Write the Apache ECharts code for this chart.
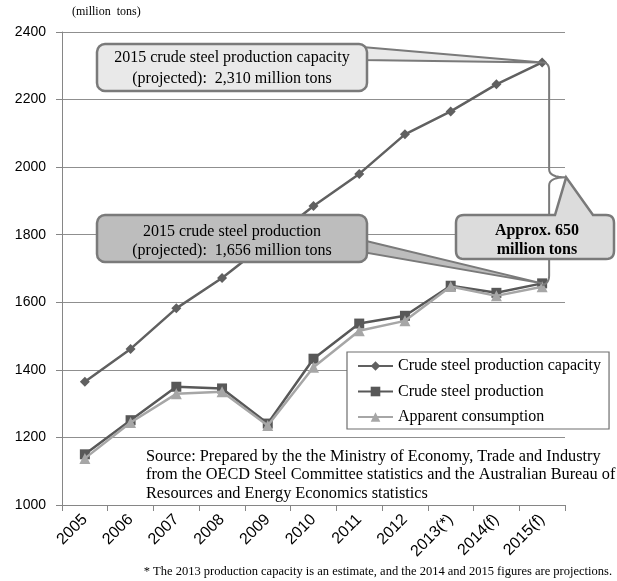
<!DOCTYPE html>
<html>
<head>
<meta charset="utf-8">
<script src="https://cdn.jsdelivr.net/npm/echarts@6/dist/echarts.min.js"></script>
<style>
  html, body { margin: 0; padding: 0; background: #fff; }
  #chart { width: 617px; height: 581px; }
</style>
</head>
<body>
<div id="chart"></div>
<script>
// Years on the category axis
const years = ['2005', '2006', '2007', '2008', '2009', '2010', '2011', '2012', '2013(*)', '2014(f)', '2015(f)'];
// World steel figures, million tons
const capacity = [1365, 1462, 1582, 1672, 1778, 1885, 1980, 2097, 2165, 2245, 2310];
const production = [1150, 1251, 1350, 1345, 1241, 1433, 1537, 1560, 1649, 1628, 1656];
const consumption = [1138, 1244, 1329, 1335, 1235, 1408, 1516, 1545, 1647, 1619, 1646];
const seriesNames = ['Crude steel production capacity', 'Crude steel production', 'Apparent consumption'];
const yTicks = { min: 1000, max: 2400, step: 200 };

const SERIF = '"Liberation Serif", "Times New Roman", serif';
const SANS = '"Liberation Sans", Arial, sans-serif';
const GRID = '#8f8f8f';
const EDGE = '#7a7a7a';

const chart = echarts.init(document.getElementById('chart'), null, { renderer: 'canvas' });

function lineSeries(name, data, color, symbol, size, z) {
  return {
    name, type: 'line', data, symbol, symbolSize: size, z,
    lineStyle: { color, width: 2.5 },
    itemStyle: { color, borderWidth: 0 },
    emphasis: { disabled: true },
    animation: false
  };
}

chart.setOption({
  animation: false,
  grid: { left: 62, right: 52, top: 32, bottom: 76, containLabel: false },
  xAxis: {
    type: 'category',
    data: years,
    boundaryGap: true,
    axisLine: { lineStyle: { color: '#868686', width: 1 } },
    axisTick: { show: true, length: 6, alignWithLabel: false, lineStyle: { color: '#868686' } },
    axisLabel: { rotate: 45, interval: 0, fontFamily: SANS, fontSize: 16, color: '#000', margin: 12 },
    splitLine: { show: false }
  },
  yAxis: {
    type: 'value',
    min: yTicks.min, max: yTicks.max, interval: yTicks.step,
    axisLine: { show: true, lineStyle: { color: '#868686', width: 1 } },
    axisTick: { show: true, length: 6, lineStyle: { color: '#868686' } },
    axisLabel: { fontFamily: SANS, fontSize: 14, color: '#000', margin: 16,
      formatter: v => String(v) },
    splitLine: { show: true, lineStyle: { color: GRID, width: 1.2 } }
  },
  legend: {
    orient: 'vertical',
    left: 347, top: 352,
    data: seriesNames,
    backgroundColor: '#fff',
    borderColor: '#6e6e6e', borderWidth: 1.2,
    padding: [6, 8, 4, 10],
    itemWidth: 35, itemHeight: 12, itemGap: 9.5,
    textStyle: { fontFamily: SERIF, fontSize: 16, color: '#000' },
    z: 20
  },
  series: [
    lineSeries(seriesNames[0], capacity, '#606060', 'diamond', 10, 2),
    lineSeries(seriesNames[1], production, '#585858', 'rect', 10, 3),
    lineSeries(seriesNames[2], consumption, '#a6a6a6', 'triangle', 11, 4)
  ]
});

// Quadratic curve sampled into points (start point excluded)
function quad(p0, c, p1, n) {
  const pts = [];
  for (let i = 1; i <= n; i++) {
    const t = i / n, u = 1 - t;
    pts.push([u * u * p0[0] + 2 * u * t * c[0] + t * t * p1[0],
              u * u * p0[1] + 2 * u * t * c[1] + t * t * p1[1]]);
  }
  return pts;
}

// Annotations: callouts and brace, anchored on the 2015 data points
const last = years.length - 1;
const pCap = chart.convertToPixel({ seriesIndex: 0 }, [last, capacity[last]]);
const pProd = chart.convertToPixel({ seriesIndex: 1 }, [last, production[last]]);
const braceX = pCap[0] + 7;
const yMid = pCap[1] + (pProd[1] - pCap[1]) * 0.52;
const notch = [braceX + 17, yMid];

const brace = [pCap]
  .concat(quad(pCap, [braceX, pCap[1]], [braceX, pCap[1] + 8], 8))
  .concat([[braceX, yMid - 8]])
  .concat(quad([braceX, yMid - 8], [braceX, yMid], notch, 8))
  .concat(quad(notch, [braceX, yMid], [braceX, yMid + 8], 8))
  .concat([[braceX, pProd[1] - 8]])
  .concat(quad([braceX, pProd[1] - 8], [braceX, pProd[1]], [pProd[0], pProd[1] + 2], 8));

// Gap callout outline: rounded box with a pointer rising to the brace notch
const bx0 = 456, bx1 = 614, by0 = 215, by1 = 259, r = 8;
const callout = [[bx0 + r, by0], [555, by0], notch, [593, by0], [bx1 - r, by0]]
  .concat(quad([bx1 - r, by0], [bx1, by0], [bx1, by0 + r], 6))
  .concat([[bx1, by1 - r]])
  .concat(quad([bx1, by1 - r], [bx1, by1], [bx1 - r, by1], 6))
  .concat([[bx0 + r, by1]])
  .concat(quad([bx0 + r, by1], [bx0, by1], [bx0, by1 - r], 6))
  .concat([[bx0, by0 + r]])
  .concat(quad([bx0, by0 + r], [bx0, by0], [bx0 + r, by0], 6));

chart.setOption({
  graphic: [
    // unit label
    { type: 'text', x: 72, y: 6, z: 30,
      style: { text: '(million  tons)', fontFamily: SERIF, fontSize: 12, fill: '#000' } },

    // brace between capacity and production in 2015
    { type: 'polyline', z: 25, shape: { points: brace },
      style: { fill: null, stroke: EDGE, lineWidth: 2 } },

    // capacity callout pointer and box
    { type: 'polygon', z: 26, shape: { points: [[362, 47], pCap, [362, 60]] },
      style: { fill: '#e9e9e9', stroke: EDGE, lineWidth: 2 } },
    { type: 'rect', z: 27, shape: { x: 97, y: 44, width: 270, height: 47, r: 8 },
      style: { fill: '#e9e9e9', stroke: EDGE, lineWidth: 2.5 } },
    { type: 'text', z: 28, x: 232, y: 68,
      style: { text: '2015 crude steel production capacity\n(projected):  2,310 million tons',
        fontFamily: SERIF, fontSize: 16, fill: '#000', align: 'center', verticalAlign: 'middle', lineHeight: 21 } },

    // production callout pointer and box
    { type: 'polygon', z: 26, shape: { points: [[362, 240], pProd, [362, 252]] },
      style: { fill: '#bdbdbd', stroke: EDGE, lineWidth: 2 } },
    { type: 'rect', z: 27, shape: { x: 97, y: 215, width: 270, height: 47, r: 8 },
      style: { fill: '#bdbdbd', stroke: EDGE, lineWidth: 2.5 } },
    { type: 'text', z: 28, x: 232, y: 241,
      style: { text: '2015 crude steel production\n(projected):  1,656 million tons',
        fontFamily: SERIF, fontSize: 16, fill: '#000', align: 'center', verticalAlign: 'middle', lineHeight: 19 } },

    // gap callout
    { type: 'polygon', z: 27, shape: { points: callout },
      style: { fill: '#dcdcdc', stroke: EDGE, lineWidth: 2.5 } },
    { type: 'text', z: 28, x: 537, y: 240,
      style: { text: 'Approx. 650\nmillion tons', fontFamily: SERIF, fontSize: 16, fontWeight: 'bold',
        fill: '#000', align: 'center', verticalAlign: 'middle', lineHeight: 19 } },

    // source note
    { type: 'text', z: 28, x: 146, y: 447,
      style: { text: 'Source: Prepared by the the Ministry of Economy, Trade and Industry\nfrom the OECD Steel Committee statistics and the Australian Bureau of\nResources and Energy Economics statistics',
        fontFamily: SERIF, fontSize: 16.3, fill: '#000', lineHeight: 18.5 } },

    // footnote
    { type: 'text', z: 28, x: 612, y: 572,
      style: { text: '* The 2013 production capacity is an estimate, and the 2014 and 2015 figures are projections.',
        fontFamily: SERIF, fontSize: 12.5, fill: '#000', align: 'right', verticalAlign: 'middle' } }
  ]
});
</script>
</body>
</html>
